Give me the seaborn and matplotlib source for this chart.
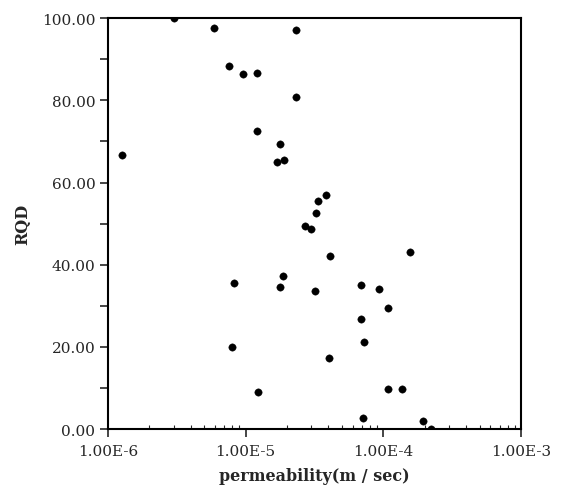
import matplotlib
matplotlib.use("Agg")
import matplotlib.pyplot as plt
from matplotlib.ticker import FixedLocator, LogLocator, FuncFormatter, MultipleLocator
import seaborn as sns
import pandas as pd
import numpy as np

# Datos
# ==============================================================================
permeabilidad = [3.03e-6, 5.9e-6, 2.33e-5, 7.6e-6, 9.5e-6, 1.21e-5, 2.33e-5,
                 1.21e-5, 1.77e-5, 1.27e-6, 1.68e-5, 1.90e-5, 3.81e-5, 3.33e-5,
                 3.24e-5, 2.70e-5, 2.98e-5, 4.07e-5, 1.56e-4, 8.26e-6, 1.87e-5,
                 1.78e-5, 3.21e-5, 6.87e-5, 9.29e-5, 1.09e-4, 6.92e-5, 7.2e-5,
                 8.03e-6, 4.05e-5, 1.24e-5, 1.09e-4, 1.36e-4, 7.1e-5, 1.93e-4,
                 2.22e-4]
rqd = [100.0, 97.7, 97.2, 88.4, 86.5, 86.6, 80.9,
       72.5, 69.4, 66.6, 65.1, 65.5, 56.9, 55.5,
       52.5, 49.5, 48.8, 42.2, 43.1, 35.5, 37.2,
       34.7, 33.6, 35.0, 34.2, 29.4, 26.9, 21.3,
       20.0, 17.2, 9.0, 9.9, 9.9, 2.7, 1.9,
       0.0]
ticks_x = [1e-6, 1e-5, 1e-4, 1e-3]
ticks_y = [0, 20, 40, 60, 80, 100]

df = pd.DataFrame({"permeability": permeabilidad, "RQD": rqd})

sns.set_style("ticks")
plt.rcParams['font.family'] = ['DejaVu Serif']

fig = plt.figure(figsize=(5.62, 5.02), dpi=100)
ax = fig.add_axes([0.192, 0.143, 0.735, 0.819])

sns.scatterplot(data=df, x="permeability", y="RQD", ax=ax, color="black",
                marker="o", s=28, edgecolor="black", linewidth=0.3)

ax.set_xscale("log")
ax.set_xlim(1e-6, 1e-3)
ax.set_ylim(0, 100)

# Ejes y ticks
# ==============================================================================
ax.xaxis.set_major_locator(FixedLocator(ticks_x))
ax.xaxis.set_minor_locator(LogLocator(base=10, subs=np.arange(2, 10)))
ax.xaxis.set_minor_formatter(FuncFormatter(lambda v, p: ""))
ax.xaxis.set_major_formatter(FuncFormatter(lambda v, p: f"1.00E{int(round(np.log10(v)))}"))
ax.yaxis.set_major_locator(FixedLocator(ticks_y))
ax.yaxis.set_minor_locator(MultipleLocator(10))
ax.yaxis.set_major_formatter(FuncFormatter(lambda v, p: f"{v:.2f}"))

ax.tick_params(axis="x", which="major", direction="out", length=6, width=1.2,
               labelsize=11, pad=5)
ax.tick_params(axis="x", which="minor", direction="in", length=3, width=0.8)
ax.tick_params(axis="y", which="major", direction="out", length=6, width=1.2,
               labelsize=11, pad=3)
ax.tick_params(axis="y", which="minor", direction="out", length=6, width=1.2)

for sp in ax.spines.values():
    sp.set_visible(True)
    sp.set_linewidth(1.5)
    sp.set_color("black")

ax.set_xlabel("permeability(m / sec)", fontsize=11.5, fontweight="bold", labelpad=6)
ax.set_ylabel("RQD", fontsize=11.5, fontweight="bold", labelpad=8)

fig.savefig("out.png", dpi=100, facecolor="white")
